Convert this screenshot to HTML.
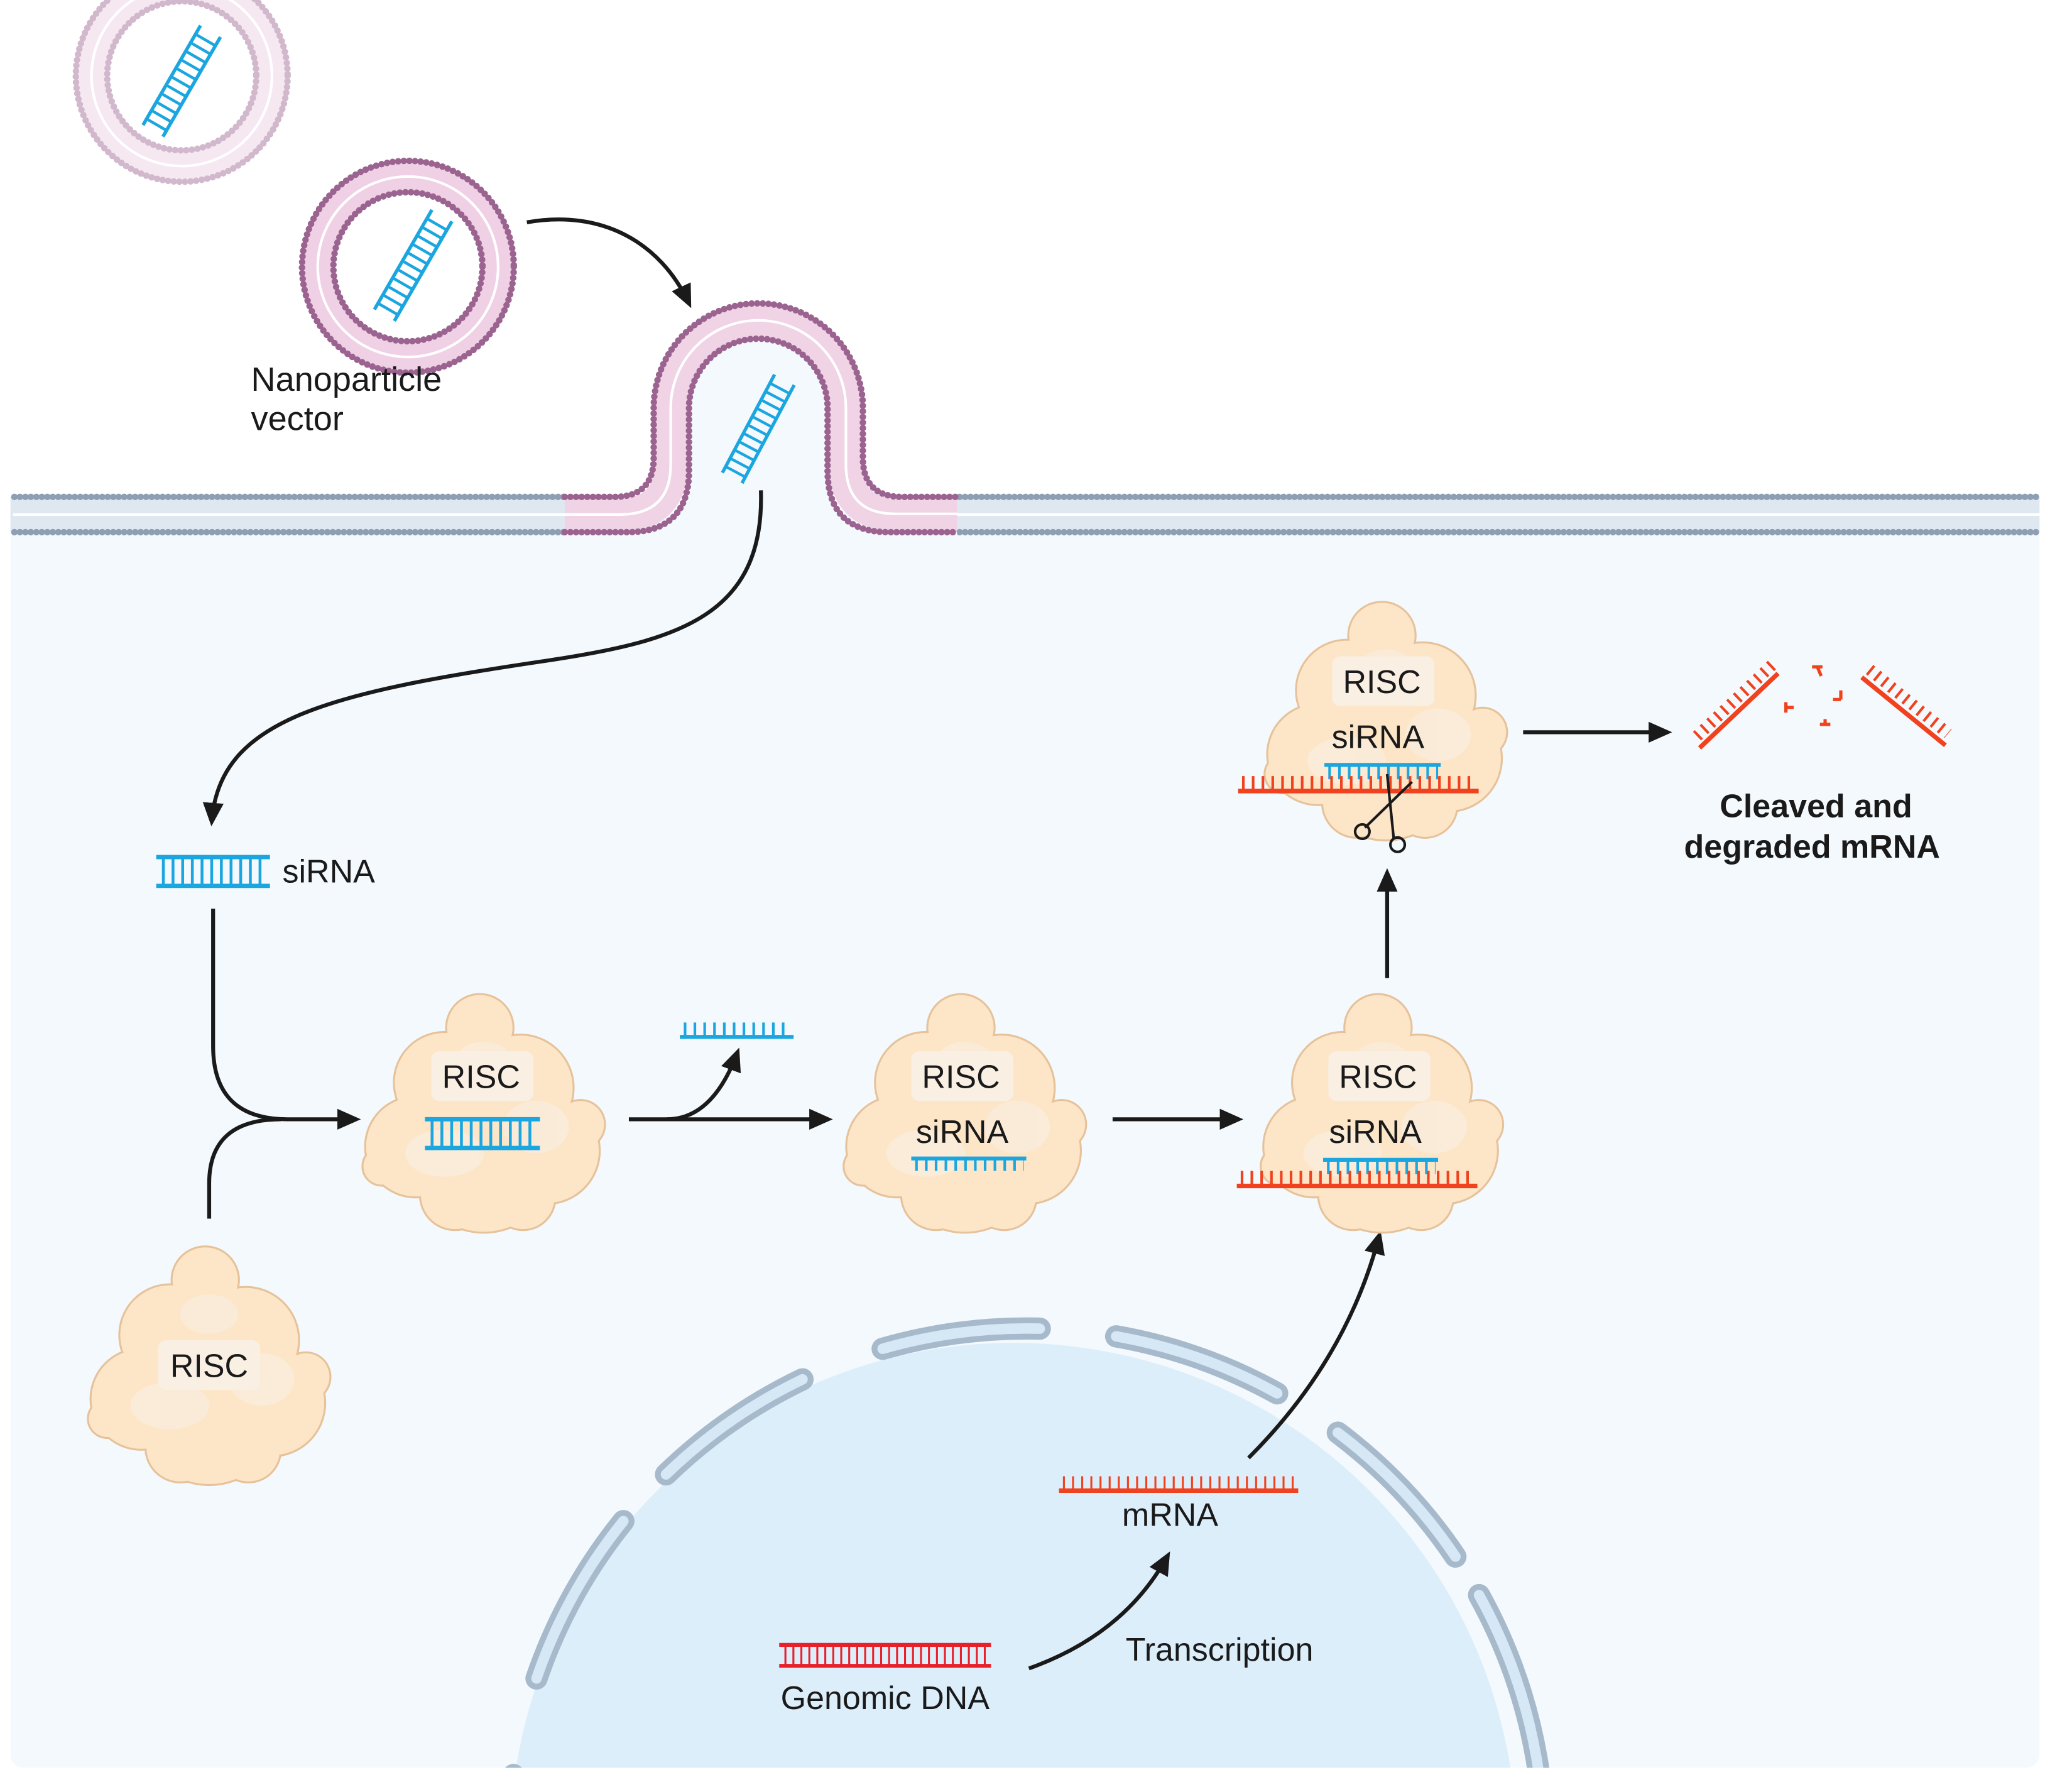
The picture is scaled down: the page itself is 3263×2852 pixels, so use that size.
<!DOCTYPE html>
<html><head><meta charset="utf-8"><style>
html,body{margin:0;padding:0;background:#fff;width:3263px;height:2852px;overflow:hidden;}
svg{display:block;}
text{font-family:"Liberation Sans",Arial,sans-serif;fill:#1a1a1a;}
</style></head><body>
<svg width="3263" height="2852" viewBox="0 0 1568 1370.5" preserveAspectRatio="none" xmlns="http://www.w3.org/2000/svg">
<defs>
<marker id="ah" markerUnits="userSpaceOnUse" markerWidth="20" markerHeight="20" viewBox="0 0 20 20" refX="14" refY="10" orient="auto">
<path d="M0,2 L18,10 L0,18 Z" fill="#1a1a1a"/></marker>
<clipPath id="cell"><rect x="8" y="393" width="1552" height="959" rx="10"/></clipPath>
<g id="blob">
<g fill="#fde6c8" stroke="#e6c29a" stroke-width="3">
<circle cx="-3" cy="-66" r="25"/><circle cx="-30" cy="-24" r="38"/><circle cx="28" cy="-20" r="40"/>
<circle cx="-52" cy="25" r="38"/><circle cx="48" cy="28" r="40"/><circle cx="0" cy="35" r="55"/>
<circle cx="-22" cy="62" r="26"/><circle cx="30" cy="64" r="24"/><circle cx="74" cy="8" r="18"/><circle cx="-78" cy="40" r="14"/>
</g>
<g fill="#fde6c8">
<circle cx="-3" cy="-66" r="25"/><circle cx="-30" cy="-24" r="38"/><circle cx="28" cy="-20" r="40"/>
<circle cx="-52" cy="25" r="38"/><circle cx="48" cy="28" r="40"/><circle cx="0" cy="35" r="55"/>
<circle cx="-22" cy="62" r="26"/><circle cx="30" cy="64" r="24"/><circle cx="74" cy="8" r="18"/><circle cx="-78" cy="40" r="14"/>
</g>
<g fill="#f9eedf" opacity="0.7"><ellipse cx="-30" cy="30" rx="30" ry="18"/><ellipse cx="40" cy="10" rx="25" ry="20"/><ellipse cx="0" cy="-40" rx="22" ry="15"/></g>
</g>
<g id="ladder">
<line x1="-50" y1="-10" x2="50" y2="-10" stroke="#1ba6e0" stroke-width="3"/>
<line x1="-50" y1="10" x2="50" y2="10" stroke="#1ba6e0" stroke-width="3"/>
<line x1="-45" y1="0" x2="45" y2="0" stroke="#1ba6e0" stroke-width="20" stroke-dasharray="2.5 6"/>
</g>
</defs>

<rect x="8" y="393" width="1552" height="959" rx="10" fill="#f4f9fd"/>
<g clip-path="url(#cell)">
<circle cx="775" cy="1412" r="385" fill="#ddeefb"/>
<circle cx="785" cy="1412" r="396" fill="none" stroke="#a7bacb" stroke-width="17" stroke-linecap="round" pathLength="360" transform="rotate(-90 785 1412)" stroke-dasharray="1.5 8.5 19 8 19 5 24 180 13 11 20 7 18.5 9.5 16"/>
<circle cx="785" cy="1412" r="396" fill="none" stroke="#d6e8f6" stroke-width="8" stroke-linecap="round" pathLength="360" transform="rotate(-90 785 1412)" stroke-dasharray="1.5 8.5 19 8 19 5 24 180 13 11 20 7 18.5 9.5 16"/>
</g>

<g>
<rect x="8" y="380" width="424" height="27" fill="#dfe7f1"/>
<rect x="732" y="380" width="828" height="27" fill="#dfe7f1"/>
<line x1="10" y1="393.5" x2="432" y2="393.5" stroke="#fff" stroke-width="2"/>
<line x1="732" y1="393.5" x2="1560" y2="393.5" stroke="#fff" stroke-width="2"/>
<g stroke="#8e9fb4" stroke-width="5" stroke-linecap="round" stroke-dasharray="0 4.2">
<line x1="11" y1="380" x2="432" y2="380"/><line x1="11" y1="407" x2="432" y2="407"/>
<line x1="734" y1="380" x2="1560" y2="380"/><line x1="734" y1="407" x2="1560" y2="407"/>
</g>
</g>
<path d="M432,407 H480 Q527,407 527,360 V312 A53,53 0 0 1 633,312 V360 Q633,407 680,407 H732 V420 H432Z" fill="#f4f9fd"/>
<path d="M432,393.5 H475 Q513,393 513,355 V312 A67,67 0 0 1 647,312 V355 Q647,393 685,393 H732" fill="none" stroke="#f0d3e5" stroke-width="26"/>
<path d="M432,393.5 H475 Q513,393 513,355 V312 A67,67 0 0 1 647,312 V355 Q647,393 685,393 H732" fill="none" stroke="#fff" stroke-width="2"/>
<path d="M432,380 H470 Q500,380 500,350 V312 A80,80 0 0 1 660,312 V350 Q660,380 690,380 H732" fill="none" stroke="#9b6390" stroke-width="5" stroke-linecap="round" stroke-dasharray="0 4.3"/>
<path d="M432,407 H480 Q527,407 527,360 V312 A53,53 0 0 1 633,312 V360 Q633,407 680,407 H732" fill="none" stroke="#9b6390" stroke-width="5" stroke-linecap="round" stroke-dasharray="0 4.3"/>
<use href="#ladder" transform="translate(580,328) rotate(-62) scale(0.85)"/>

<g opacity="0.45">
<circle cx="139" cy="58" r="69" fill="none" stroke="#edcde2" stroke-width="22"/>
<circle cx="139" cy="58" r="69" fill="none" stroke="#fff" stroke-width="2"/>
<circle cx="139" cy="58" r="81" fill="none" stroke="#9b6390" stroke-width="5" stroke-linecap="round" stroke-dasharray="0 4.3"/>
<circle cx="139" cy="58" r="57" fill="none" stroke="#9b6390" stroke-width="5" stroke-linecap="round" stroke-dasharray="0 4.3"/>
</g>
<use href="#ladder" transform="translate(139,62) rotate(-60) scale(0.88)"/>
<circle cx="312" cy="204" r="69" fill="none" stroke="#f0d0e4" stroke-width="22"/>
<circle cx="312" cy="204" r="69" fill="none" stroke="#fff" stroke-width="2"/>
<circle cx="312" cy="204" r="81" fill="none" stroke="#9b6390" stroke-width="5" stroke-linecap="round" stroke-dasharray="0 4.3"/>
<circle cx="312" cy="204" r="57" fill="none" stroke="#9b6390" stroke-width="5" stroke-linecap="round" stroke-dasharray="0 4.3"/>
<use href="#ladder" transform="translate(316,203) rotate(-60) scale(0.88)"/>
<text x="192" y="299" font-size="26">Nanoparticle</text>
<text x="192" y="329" font-size="26">vector</text>

<g fill="none" stroke="#1a1a1a" stroke-width="3">
<path d="M403,170 C460,160 505,185 527,232" marker-end="url(#ah)"/>
<path d="M582,375 C585,470 520,490 420,505 C250,530 168,550 162,628" marker-end="url(#ah)"/>
<path d="M163,695 V800 Q163,856 220,856 H272" marker-end="url(#ah)"/>
<path d="M160,932 V905 Q160,856 215,856"/>
<path d="M481,856 H633" marker-end="url(#ah)"/>
<path d="M510,856 Q545,856 564,805" marker-end="url(#ah)"/>
<path d="M851,856 H947" marker-end="url(#ah)"/>
<path d="M1061,748 V668" marker-end="url(#ah)"/>
<path d="M1165,560 H1275" marker-end="url(#ah)"/>
<path d="M955,1115 Q1030,1040 1055,945" marker-end="url(#ah)"/>
<path d="M787,1276 Q860,1250 893,1190" marker-end="url(#ah)"/>
</g>

<g transform="translate(163,666.5) scale(0.87,1.1)"><use href="#ladder"/></g>
<text x="216" y="675" font-size="25">siRNA</text>

<use href="#blob" transform="translate(370,852)"/>
<rect x="330" y="804" width="78" height="38" rx="6" fill="#f9efe3"/>
<text x="368" y="832" font-size="25" text-anchor="middle">RISC</text>
<g transform="translate(369,867) scale(0.88,1.1)"><use href="#ladder"/></g>

<line x1="520" y1="793" x2="607" y2="793" stroke="#1ba6e0" stroke-width="3"/>
<line x1="523" y1="787" x2="605" y2="787" stroke="#1ba6e0" stroke-width="10" stroke-dasharray="2 5.5"/>

<use href="#blob" transform="translate(738,852)"/>
<rect x="697" y="804" width="78" height="38" rx="6" fill="#f9efe3"/>
<text x="735" y="832" font-size="25" text-anchor="middle">RISC</text>
<text x="736" y="874" font-size="25" text-anchor="middle">siRNA</text>
<line x1="697" y1="886" x2="785" y2="886" stroke="#1ba6e0" stroke-width="3"/>
<line x1="700" y1="891" x2="783" y2="891" stroke="#1ba6e0" stroke-width="9" stroke-dasharray="2 5.5"/>

<use href="#blob" transform="translate(1057,852)"/>
<rect x="1016" y="804" width="78" height="38" rx="6" fill="#f9efe3"/>
<text x="1054" y="832" font-size="25" text-anchor="middle">RISC</text>
<text x="1052" y="874" font-size="25" text-anchor="middle">siRNA</text>
<line x1="1012" y1="887" x2="1100" y2="887" stroke="#1ba6e0" stroke-width="3"/>
<line x1="1015" y1="893" x2="1098" y2="893" stroke="#1ba6e0" stroke-width="10" stroke-dasharray="2 5.5"/>
<line x1="946" y1="907" x2="1130" y2="907" stroke="#f0421e" stroke-width="3.5"/>
<line x1="949" y1="901" x2="1128" y2="901" stroke="#f0421e" stroke-width="11" stroke-dasharray="2 5.5"/>

<use href="#blob" transform="translate(1060,552)"/>
<rect x="1019" y="502" width="78" height="38" rx="6" fill="#f9efe3"/>
<text x="1057" y="530" font-size="25" text-anchor="middle">RISC</text>
<text x="1054" y="572" font-size="25" text-anchor="middle">siRNA</text>
<line x1="1013" y1="585" x2="1102" y2="585" stroke="#1ba6e0" stroke-width="3"/>
<line x1="1016" y1="591" x2="1100" y2="591" stroke="#1ba6e0" stroke-width="10" stroke-dasharray="2 5.5"/>
<line x1="947" y1="605" x2="1131" y2="605" stroke="#f0421e" stroke-width="3.5"/>
<line x1="950" y1="599" x2="1129" y2="599" stroke="#f0421e" stroke-width="11" stroke-dasharray="2 5.5"/>
<g stroke="#1a1a1a" stroke-width="2" fill="none">
<line x1="1080" y1="598" x2="1044" y2="633"/>
<line x1="1061" y1="592" x2="1066" y2="641"/>
<circle cx="1042" cy="636" r="5.5"/><circle cx="1069" cy="646" r="5.5"/>
</g>

<g stroke="#f0421e" fill="none">
<line x1="1300" y1="572" x2="1360" y2="515" stroke-width="3.5"/>
<line x1="1296" y1="565" x2="1354" y2="510" stroke-width="9" stroke-dasharray="2 5" transform="translate(2,-2)"/>
<line x1="1424" y1="518" x2="1488" y2="570" stroke-width="3.5"/>
<line x1="1428" y1="512" x2="1488" y2="561" stroke-width="9" stroke-dasharray="2 5" transform="translate(2,0)"/>
<path d="M1386,510 H1394 M1390,510 L1393,517 M1366,537 V545 M1366,541 H1372 M1408,528 V535 M1408,535 H1402 M1392,554 H1400 M1396,554 V550" stroke-width="2.5"/>
</g>
<text x="1389" y="625" font-size="25" font-weight="bold" text-anchor="middle">Cleaved and</text>
<text x="1386" y="656" font-size="25" font-weight="bold" text-anchor="middle">degraded mRNA</text>

<use href="#blob" transform="translate(160,1045)"/>
<rect x="121" y="1025" width="78" height="38" rx="6" fill="#f9efe3"/>
<text x="160" y="1053" font-size="25" text-anchor="middle">RISC</text>

<line x1="810" y1="1140" x2="993" y2="1140" stroke="#f0421e" stroke-width="3.5"/>
<line x1="813" y1="1134" x2="991" y2="1134" stroke="#f0421e" stroke-width="10" stroke-dasharray="1.5 5.5"/>
<text x="895" y="1167" font-size="25" text-anchor="middle">mRNA</text>
<line x1="596" y1="1258" x2="758" y2="1258" stroke="#e8202a" stroke-width="3"/>
<line x1="596" y1="1274" x2="758" y2="1274" stroke="#e8202a" stroke-width="3"/>
<line x1="600" y1="1266" x2="756" y2="1266" stroke="#e8202a" stroke-width="15" stroke-dasharray="1.5 4.6"/>
<text x="677" y="1307" font-size="25" text-anchor="middle">Genomic DNA</text>
<text x="861" y="1270" font-size="25">Transcription</text>
</svg>
</body></html>
